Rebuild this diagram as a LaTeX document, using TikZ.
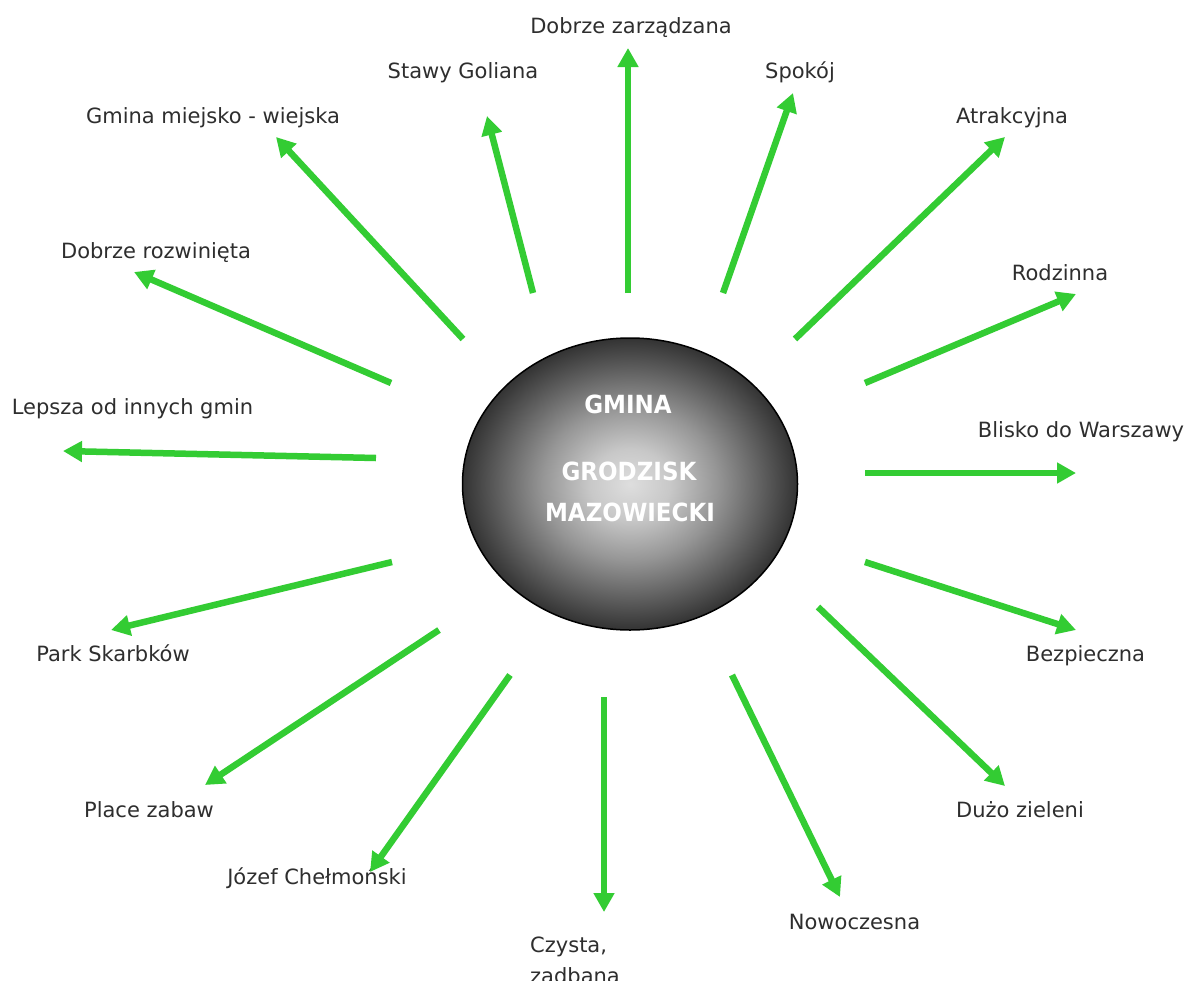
\documentclass[tikz,border=0pt]{standalone}
\usepackage{fontspec}
\setmainfont{DejaVu Sans}
\newfontfamily\ellfont{DejaVu Sans Bold}[FakeStretch=0.92]
\usetikzlibrary{arrows.meta,shapes.geometric}
\definecolor{grn}{HTML}{33CC33}
\definecolor{txt}{HTML}{2E2E2E}
\definecolor{sh0}{HTML}{DEDEDE}
\definecolor{sh1}{HTML}{C8C8C8}
\definecolor{sh2}{HTML}{969696}
\definecolor{sh3}{HTML}{5C5C5C}
\definecolor{sh4}{HTML}{333333}
\pgfdeclareradialshading{ballshade}{\pgfpoint{0bp}{0bp}}{color(0bp)=(sh0); color(6bp)=(sh1); color(13bp)=(sh2); color(20bp)=(sh3); color(25bp)=(sh4); color(50bp)=(sh4)}
\begin{document}
\begin{tikzpicture}[x=1pt,y=-1pt,
  lbl/.style={font=\fontsize{21}{25}\selectfont, text=txt, inner sep=0pt, anchor=base},
  elltxt/.style={font=\ellfont\fontsize{25}{30}\selectfont, text=white, inner sep=0pt, anchor=base},
  ray/.style={draw=grn, line width=6.5pt, -{Triangle[length=19pt,width=20pt]}}]
\useasboundingbox (0,0) rectangle (1188,980);
\fill[white] (0,0) rectangle (1188,980);

% central ellipse
\node[ellipse, minimum width=335pt, minimum height=292pt, inner sep=0pt,
      draw=black, line width=1.5pt, shading=ballshade] (ball) at (630,484) {};
\node[elltxt] (g1) at (628,413) {GMINA};
\node[elltxt] (g2) at (629,480) {GRODZISK};
\node[elltxt] (g3) at (630,521) {MAZOWIECKI};

% labels
\node[lbl] (zarz)   at (631,33)   {Dobrze zarządzana};
\node[lbl] (stawy)  at (463,78)   {Stawy Goliana};
\node[lbl] (spokoj) at (800,78)   {Spokój};
\node[lbl] (gmina)  at (213,123)  {Gmina miejsko - wiejska};
\node[lbl] (atrak)  at (1012,123) {Atrakcyjna};
\node[lbl] (rozw)   at (156,258)  {Dobrze rozwinięta};
\node[lbl] (rodz)   at (1060,280) {Rodzinna};
\node[lbl] (lepsza) at (132.5,414){Lepsza od innych gmin};
\node[lbl] (blisko) at (1081,437) {Blisko do Warszawy};
\node[lbl] (park)   at (113,661)  {Park Skarbków};
\node[lbl] (bezp)   at (1085.5,661){Bezpieczna};
\node[lbl] (place)  at (149,817)  {Place zabaw};
\node[lbl] (duzo)   at (1020,817) {Dużo zieleni};
\node[lbl] (jozef)  at (317,884)  {Józef Chełmoński};
\node[lbl] (nowo)   at (854.5,929){Nowoczesna};
\node[lbl, anchor=base west] (czysta) at (530,952)
  {\fontsize{21}{31.5}\selectfont\begin{tabular}[t]{@{}l@{}}Czysta,\\zadbana\end{tabular}};

% arrow coordinates
\coordinate (s1) at (628,293);  \coordinate (t1) at (628,48);
\coordinate (s2) at (723,293);  \coordinate (t2) at (793,93);
\coordinate (s3) at (795,339);  \coordinate (t3) at (1005,137);
\coordinate (s4) at (865,383);  \coordinate (t4) at (1076,294);
\coordinate (s5) at (865,473);  \coordinate (t5) at (1076,473);
\coordinate (s6) at (533,293);  \coordinate (t6) at (487,116);
\coordinate (s7) at (463,339);  \coordinate (t7) at (276,137);
\coordinate (s8) at (391,383);  \coordinate (t8) at (134,272);
\coordinate (s9) at (376,458);  \coordinate (t9) at (63,451);
\coordinate (s10) at (392,562); \coordinate (t10) at (111,630);
\coordinate (s11) at (439,630); \coordinate (t11) at (205,785);
\coordinate (s12) at (510,675); \coordinate (t12) at (370,872);
\coordinate (s13) at (604,697); \coordinate (t13) at (604,912);
\coordinate (s14) at (732,675); \coordinate (t14) at (840,897);
\coordinate (s15) at (818,607); \coordinate (t15) at (1005,786);
\coordinate (s16) at (865,562); \coordinate (t16) at (1076,630);

\foreach \i in {1,...,16} { \draw[ray] (s\i) -- (t\i); }
\end{tikzpicture}
\end{document}
